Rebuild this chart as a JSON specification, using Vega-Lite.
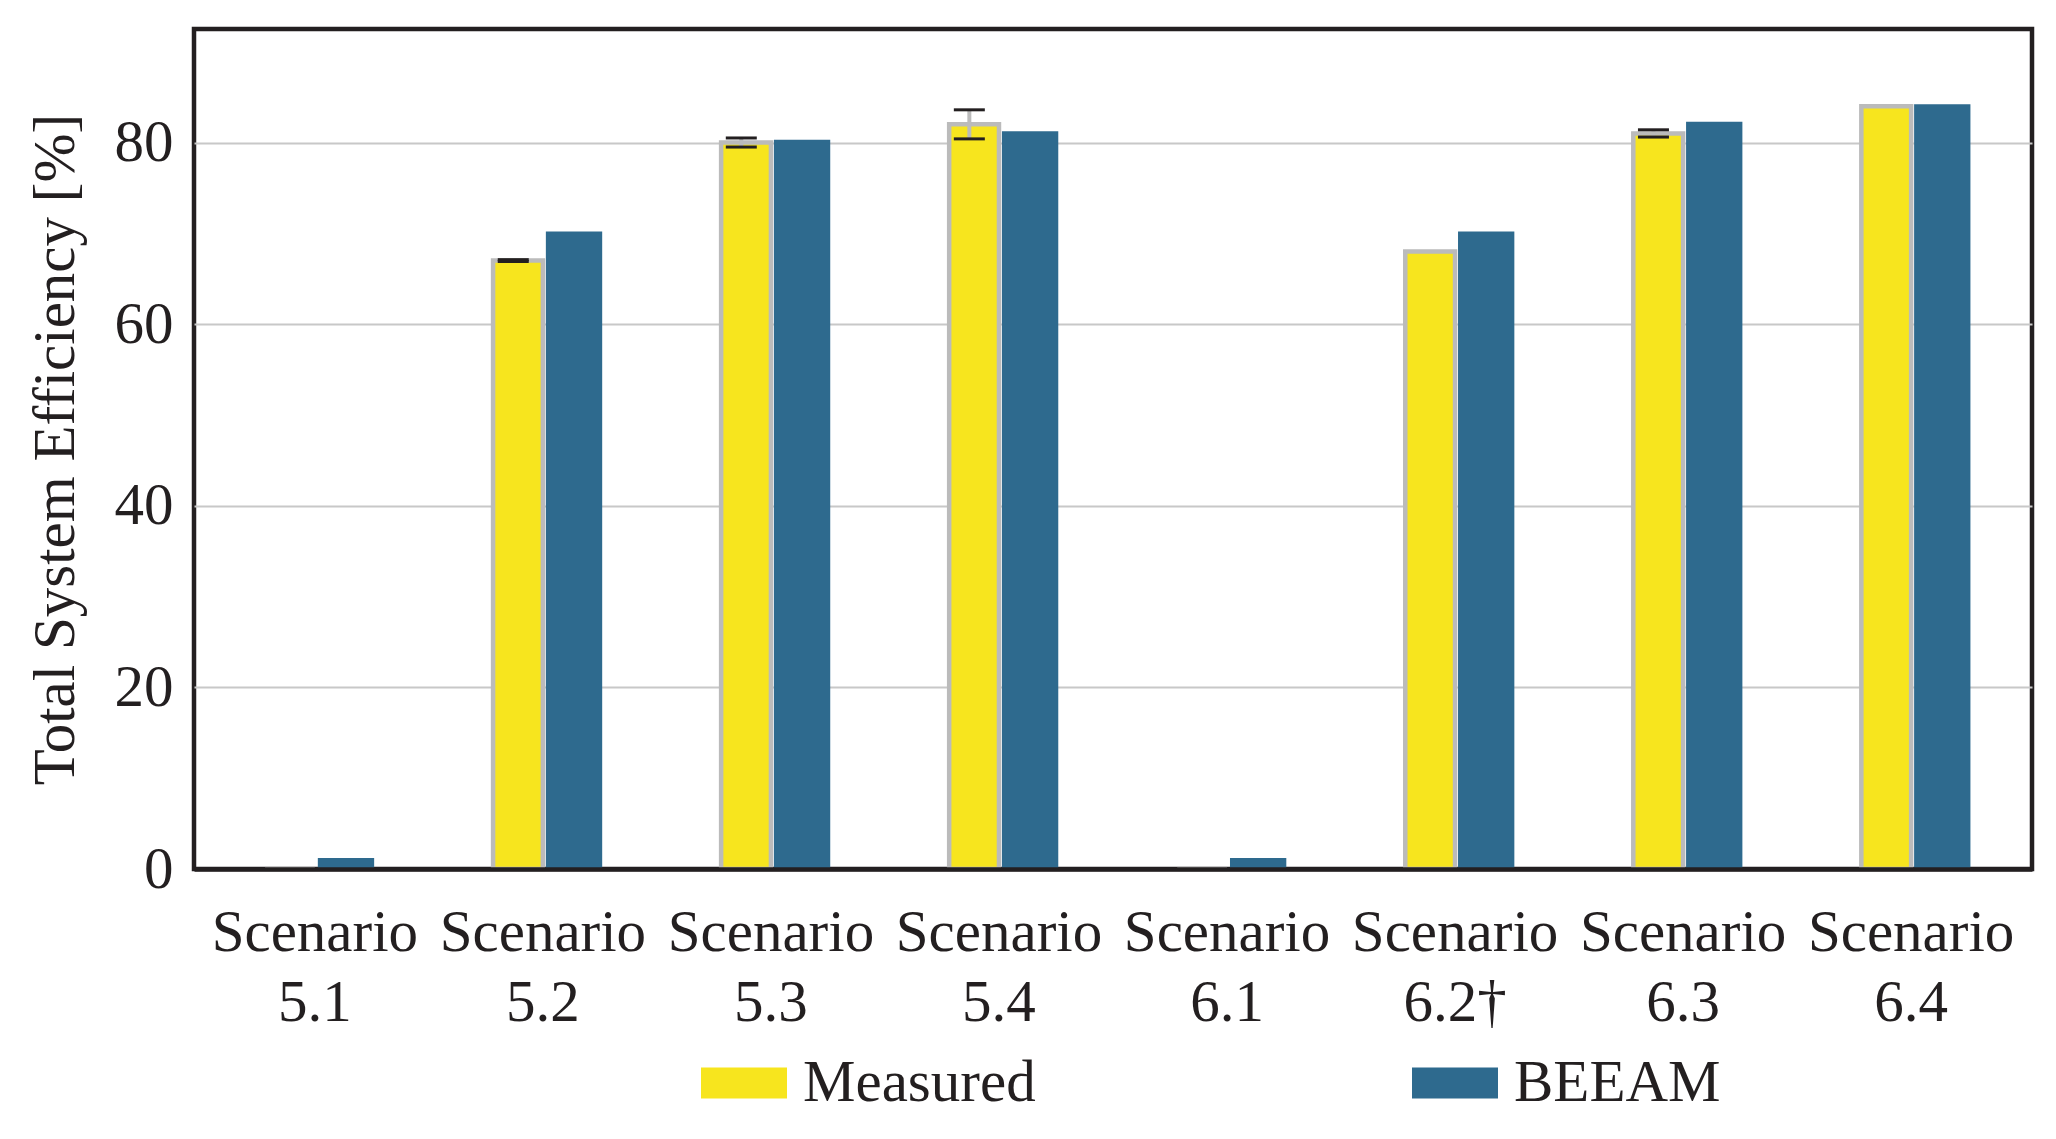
{
  "$schema": "https://vega.github.io/schema/vega-lite/v6.json",
  "autosize": {"type": "none"},
  "padding": {"left": 194, "top": 29, "right": 24, "bottom": 270},
  "width": 1838,
  "height": 840,
  "background": "white",
  "config": {
    "view": {"stroke": "#231F20", "strokeWidth": 4.5},
    "font": "Liberation Serif",
    "axis": {"labelFont": "Liberation Serif", "titleFont": "Liberation Serif", "labelColor": "#231F20", "titleColor": "#231F20"},
    "legend": {"labelFont": "Liberation Serif", "labelColor": "#231F20"}
  },
  "data": {
    "values": [
      {"scenario": "Scenario 5.1", "series": "Measured", "value": 0, "lo": null, "hi": null},
      {"scenario": "Scenario 5.1", "series": "BEEAM", "value": 1.2, "lo": null, "hi": null},
      {"scenario": "Scenario 5.2", "series": "Measured", "value": 67.0, "lo": 66.9, "hi": 67.1},
      {"scenario": "Scenario 5.2", "series": "BEEAM", "value": 70.2, "lo": null, "hi": null},
      {"scenario": "Scenario 5.3", "series": "Measured", "value": 80.0, "lo": 79.5, "hi": 80.5},
      {"scenario": "Scenario 5.3", "series": "BEEAM", "value": 80.3, "lo": null, "hi": null},
      {"scenario": "Scenario 5.4", "series": "Measured", "value": 82.0, "lo": 80.4, "hi": 83.6},
      {"scenario": "Scenario 5.4", "series": "BEEAM", "value": 81.25, "lo": null, "hi": null},
      {"scenario": "Scenario 6.1", "series": "Measured", "value": 0, "lo": null, "hi": null},
      {"scenario": "Scenario 6.1", "series": "BEEAM", "value": 1.2, "lo": null, "hi": null},
      {"scenario": "Scenario 6.2†", "series": "Measured", "value": 68.0, "lo": null, "hi": null},
      {"scenario": "Scenario 6.2†", "series": "BEEAM", "value": 70.2, "lo": null, "hi": null},
      {"scenario": "Scenario 6.3", "series": "Measured", "value": 81.0, "lo": 80.6, "hi": 81.4},
      {"scenario": "Scenario 6.3", "series": "BEEAM", "value": 82.3, "lo": null, "hi": null},
      {"scenario": "Scenario 6.4", "series": "Measured", "value": 84.0, "lo": null, "hi": null},
      {"scenario": "Scenario 6.4", "series": "BEEAM", "value": 84.2, "lo": null, "hi": null}
    ]
  },
  "encoding": {
    "x": {
      "field": "scenario",
      "type": "nominal",
      "sort": null,
      "scale": {"type": "band", "paddingInner": 0.48, "paddingOuter": 0.27},
      "axis": {
        "title": null,
        "ticks": false,
        "domain": true,
        "domainColor": "#231F20",
        "domainWidth": 4.5,
        "zindex": 1,
        "grid": false,
        "labelAngle": 0,
        "labelFontSize": 59,
        "labelExpr": "split(datum.value, ' ')",
        "labelLineHeight": 70,
        "labelBaseline": "top",
        "labelPadding": 34,
        "labelLimit": 0
      }
    },
    "xOffset": {
      "field": "series",
      "type": "nominal",
      "scale": {"domain": ["Measured", "BEEAM"], "paddingInner": 0, "paddingOuter": 0}
    }
  },
  "layer": [
    {
      "transform": [{"filter": "datum.series === 'Measured'"}],
      "mark": {"type": "bar", "width": {"band": 0.84}, "stroke": "#BBBBBB", "strokeWidth": 4.5},
      "encoding": {
        "y": {
          "field": "value",
          "type": "quantitative",
          "scale": {"domain": [0, 92.5], "nice": false},
          "axis": {
            "title": "Total System Efficiency [%]",
            "titleFontSize": 59,
            "titleFontWeight": "normal",
            "titleX": -121,
            "titleY": 420,
            "titleBaseline": "alphabetic",
            "titleAngle": -90,
            "values": [0, 20, 40, 60, 80],
            "labelFontSize": 59,
            "labelPadding": 21,
            "ticks": false,
            "domain": false,
            "grid": true,
            "gridColor": "#C8C8C8",
            "gridWidth": 1.8,
            "gridOpacity": {"condition": {"test": "datum.value === 0", "value": 0}, "value": 1}
          }
        },
        "color": {
          "field": "series",
          "type": "nominal",
          "scale": {"domain": ["Measured", "BEEAM"], "range": ["#F7E51E", "#2E6A8E"]},
          "legend": {
            "orient": "none",
            "legendX": 507,
            "legendY": 1011,
            "direction": "horizontal",
            "columns": 2,
            "columnPadding": 376,
            "padding": 0,
            "title": null,
            "symbolType": "M-1,-0.36L1,-0.36L1,0.36L-1,0.36Z",
            "symbolSize": 7396,
            "symbolStrokeWidth": 0,
            "symbolOpacity": 1,
            "labelFontSize": 59,
            "labelOffset": 16,
            "labelLimit": 0
          }
        }
      }
    },
    {
      "transform": [{"filter": "datum.series === 'BEEAM'"}],
      "mark": {"type": "bar", "width": {"band": 0.95}},
      "encoding": {
        "y": {"field": "value", "type": "quantitative"},
        "color": {"field": "series", "type": "nominal"}
      }
    },
    {
      "transform": [{"filter": "datum.lo != null"}],
      "mark": {"type": "rule", "color": "#BBBBBB", "strokeWidth": 4},
      "encoding": {
        "y": {"field": "lo", "type": "quantitative"},
        "y2": {"field": "hi"}
      }
    },
    {
      "transform": [{"filter": "datum.lo != null"}],
      "mark": {"type": "tick", "orient": "horizontal", "color": "#231F20", "size": 31, "thickness": 3, "opacity": 1},
      "encoding": {
        "y": {"field": "lo", "type": "quantitative"}
      }
    },
    {
      "transform": [{"filter": "datum.lo != null"}],
      "mark": {"type": "tick", "orient": "horizontal", "color": "#231F20", "size": 31, "thickness": 3, "opacity": 1},
      "encoding": {
        "y": {"field": "hi", "type": "quantitative"}
      }
    }
  ]
}
